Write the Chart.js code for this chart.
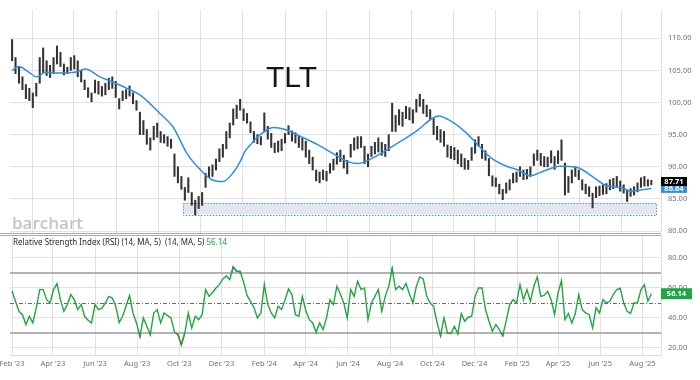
<!DOCTYPE html>
<html>
<head>
<meta charset="utf-8">
<script src="https://cdn.jsdelivr.net/npm/chart.js@4.4.1/dist/chart.umd.min.js"></script>
<style>
  html, body { margin: 0; padding: 0; background: #fff; }
  #wrap { position: relative; width: 700px; height: 380px; overflow: hidden; }
  #price { position: absolute; left: 0; top: 0; }
  #rsi { position: absolute; left: 0; top: 234px; }
</style>
</head>
<body>
<div id="wrap">
  <canvas id="price" width="700" height="240"></canvas>
  <canvas id="rsi" width="700" height="146"></canvas>
</div>
<script>
(function () {
  "use strict";

  // ---- data ----
  const SYMBOL = "TLT";
  const FIRST_DAY = "2023-02-01";   // first sample
  const STEP_DAYS = 5;               // one sample every 5 calendar days

  const priceHigh = [
    109.8, 107.0, 105.5, 104.0, 102.8, 102.2, 101.5, 103.0, 107.0, 108.5,
    106.5, 105.8, 107.0, 108.8, 107.8, 106.0, 105.5, 107.0, 107.3, 106.5,
    105.0, 103.5, 102.3, 101.5, 103.5, 103.3, 102.5, 103.0, 103.8, 104.0,
    103.3, 100.6, 101.8, 102.0, 102.6, 101.5, 100.3, 98.5, 97.2, 95.8,
    94.5, 96.3, 96.8, 95.5, 95.0, 94.7, 94.3, 92.0, 90.0, 88.5,
    86.8, 88.3, 86.0, 84.8, 85.4, 86.0, 89.0, 90.0, 90.3, 91.2,
    92.8, 93.5, 95.5, 96.8, 99.0, 99.6, 100.5, 99.0, 98.3, 97.0,
    95.5, 95.0, 94.7, 98.4, 96.3, 95.2, 93.7, 94.0, 94.3, 95.2,
    96.4, 95.6, 95.3, 94.8, 94.5, 94.0, 92.6, 91.5, 89.5, 89.2,
    89.5, 89.3, 90.5, 91.2, 92.2, 92.6, 91.8, 91.0, 93.5, 94.5,
    94.7, 94.7, 93.2, 92.0, 93.2, 93.8, 94.5, 93.8, 93.5, 95.0,
    99.9, 98.0, 98.9, 98.5, 99.4, 99.2, 98.9, 100.5, 101.3, 100.5,
    99.6, 98.9, 97.5, 96.3, 95.8, 95.5, 93.4, 93.2, 93.0, 92.6,
    92.0, 91.3, 91.0, 93.0, 94.2, 94.7, 93.5, 92.5, 91.3, 88.6,
    88.3, 87.3, 86.5, 87.5, 88.0, 89.0, 89.2, 90.0, 89.5, 89.6,
    90.0, 92.0, 92.6, 92.1, 91.6, 91.5, 92.5, 91.6, 92.5, 94.2,
    90.6, 88.5, 89.5, 90.0, 89.5, 88.0, 87.3, 86.9, 85.9, 86.9,
    87.0, 87.2, 87.4, 88.0, 88.2, 88.5, 87.8, 87.2, 86.4, 86.6,
    86.9, 87.5, 88.3, 88.5, 88.0, 87.9
  ];
  const priceLow = [
    106.5, 104.5, 103.0, 102.0, 100.6, 100.3, 99.2, 101.0, 103.0, 104.6,
    104.2, 103.9, 104.5, 106.0, 105.6, 104.3, 104.5, 105.0, 105.2, 104.0,
    103.2, 102.0, 100.8, 100.1, 101.5, 101.3, 101.0, 101.2, 102.0, 102.2,
    100.8, 99.0, 100.3, 100.6, 101.0, 99.8, 98.8, 95.0, 95.0, 93.5,
    92.6, 94.2, 94.6, 93.8, 93.7, 93.2, 92.9, 88.5, 87.5, 86.5,
    84.8, 86.0, 84.0, 82.5, 83.5, 84.0, 86.8, 88.3, 88.5, 89.5,
    90.8, 91.5, 92.8, 94.5, 96.5, 97.5, 98.8, 97.2, 96.8, 95.3,
    93.8, 93.6, 93.4, 95.5, 94.3, 93.0, 92.2, 92.3, 92.5, 93.7,
    95.0, 94.0, 93.7, 93.0, 92.6, 91.5, 90.5, 89.5, 87.8, 87.5,
    88.0, 87.8, 89.0, 89.5, 90.4, 90.8, 89.8, 88.9, 91.5, 92.6,
    92.8, 93.0, 90.5, 90.0, 91.6, 92.0, 92.3, 91.8, 91.6, 92.5,
    95.5, 95.5, 96.5, 96.3, 97.5, 97.3, 96.8, 98.5, 99.4, 98.3,
    97.8, 97.3, 95.0, 94.2, 93.8, 93.2, 91.5, 91.3, 91.1, 90.5,
    90.0, 89.6, 89.6, 91.0, 92.1, 93.2, 91.3, 91.0, 88.6, 87.0,
    86.9, 85.8, 84.9, 85.9, 86.4, 87.5, 87.6, 88.5, 88.0, 88.1,
    88.5, 90.2, 91.0, 90.2, 90.0, 90.0, 90.6, 89.6, 90.5, 91.0,
    85.6, 86.0, 87.5, 88.5, 88.0, 86.4, 85.8, 85.4, 83.6, 85.2,
    85.5, 85.7, 85.8, 86.4, 86.6, 86.9, 86.2, 85.9, 84.6, 85.4,
    85.6, 86.1, 86.8, 87.0, 87.0, 87.2
  ];

  // moving average (days after FIRST_DAY, value)
  const maDays = [
    0, 10, 22, 36, 48, 69, 91, 106, 127, 146, 166, 185, 214, 233, 253, 272,
    291, 305, 320, 330, 337, 344, 352, 363, 378, 395, 418, 443, 467, 486, 501,
    515, 534, 554, 588, 606, 617, 635, 656, 674, 693, 713, 732, 750, 766, 793,
    818, 841, 861, 880, 896, 909, 925
  ];
  const maValues = [
    105.0, 105.6, 104.9, 104.0, 104.7, 104.6, 104.7, 105.2, 104.0, 103.2, 102.2, 101.2, 98.3, 96.2, 92.1, 89.6,
    87.9, 87.7, 89.1, 90.8, 92.4, 93.3, 94.3, 95.3, 96.1, 95.8, 94.7, 93.4, 91.9, 90.8, 90.5,
    91.0, 92.1, 93.4, 95.8, 97.4, 97.9, 97.1, 95.4, 93.4, 91.4, 90.2, 89.5, 88.6, 89.2, 90.1,
    89.9, 88.4, 87.0, 86.8, 86.2, 86.4, 86.64
  ];

  const rsiValues = [
    58, 51, 44.4, 42.2, 35.6, 41.1, 36.7, 46.7, 58.9, 58.9,
    52.2, 50, 58.9, 62.9, 52.2, 44.4, 48.9, 55.6, 52.2, 45.6,
    48.9, 41.1, 38.5, 36.7, 48.9, 45.6, 46.5, 50, 54.4, 53.3,
    48, 37, 41.1, 48, 54.9, 43.3, 36.7, 27.8, 40, 34.4,
    29, 43.3, 45.6, 36.7, 43.3, 41.5, 40, 30.5, 28.9, 22.2,
    30, 43.3, 33.3, 41.1, 38.9, 42.2, 58.9, 54.4, 57, 60,
    62.2, 66, 68, 65.6, 74, 71.1, 71, 64, 55, 51,
    47, 40, 43.3, 62.2, 48.9, 43.3, 40, 47.8, 45.6, 52.2,
    59.3, 55.6, 42.2, 41.1, 54.4, 45, 39, 36.7, 30.4, 36.7,
    32.2, 40, 52.2, 48.9, 61.1, 56, 50, 40, 58.9, 54.4,
    64.4, 58.9, 60, 38.9, 50, 54.4, 58.9, 44.4, 54.4, 61.1,
    72.7, 58.9, 61.1, 58.9, 63, 56, 50, 61.1, 67.3, 66,
    54.4, 50, 47.8, 36.7, 28.2, 40, 30, 29.6, 34.4, 29.6,
    42.9, 37.8, 40.5, 41.1, 54.4, 60, 60, 45.6, 38, 31.1,
    35.6, 32.2, 28.2, 38, 48.9, 52.2, 50, 62.2, 52.2, 58.9,
    51.1, 61.1, 67.3, 54.4, 55, 57.8, 52.2, 42.2, 56.7, 64.9,
    38.9, 42.9, 36.7, 42.9, 55.6, 45.6, 43.3, 42.2, 33.3, 46.7,
    43.3, 52.2, 50, 51.1, 55.6, 58.9, 59.8, 50, 44.4, 43,
    50, 50, 58.9, 62.2, 51.1, 56.14
  ];

  const lastClose = 87.71;
  const monthTicks = [
    "2023-02-01", "2023-04-01", "2023-06-01", "2023-08-01", "2023-10-01", "2023-12-01",
    "2024-02-01", "2024-04-01", "2024-06-01", "2024-08-01", "2024-10-01", "2024-12-01",
    "2025-02-01", "2025-04-01", "2025-06-01", "2025-08-01"
  ];
  const priceTicks = [80, 85, 90, 95, 100, 105, 110];
  const rsiTicks = [20, 40, 60, 80];
  const rsiUpper = 70, rsiMid = 50, rsiLower = 30;
  const zone = { from: "2023-10-06", to: "2025-08-21", low: 82.6, high: 84.4 };

  // ---- helpers ----
  const DAY_MS = 86400000;
  const t0 = Date.parse(FIRST_DAY);
  const dayOf = (s) => (Date.parse(s) - t0) / DAY_MS;
  const MONTHS = ["Jan", "Feb", "Mar", "Apr", "May", "Jun", "Jul", "Aug", "Sep", "Oct", "Nov", "Dec"];
  const tickDays = monthTicks.map(dayOf);
  const tickLabels = monthTicks.map((s) => MONTHS[+s.slice(5, 7) - 1] + " '" + s.slice(2, 4));
  const X_MIN = -3, X_MAX = 939;

  const COLORS = {
    bar: "#333333",
    ma: "#2f8fe6",
    grid: "#e2e2e2",
    axisText: "#6f6f6f",
    rsi: "#22a53f",
    rsiHigh: "#1530e6",
    rsiLow: "#e5202a",
    band: "#9a9a9a",
    badgeGreen: "#1fa546",
  };
  const FONT = '"Noto Sans", "DejaVu Sans", sans-serif';
  Chart.defaults.font.family = FONT;

  function sharedX(borderColor) {
    return {
      type: "linear",
      min: X_MIN,
      max: X_MAX,
      offset: false,
      afterBuildTicks: (s) => { s.ticks = tickDays.map((v) => ({ value: v })); },
      afterFit: (s) => { s.height = 0; },
      ticks: { display: false },
      grid: { color: COLORS.grid, lineWidth: 1, drawTicks: false },
      border: { display: true, color: borderColor, width: 1 },
    };
  }

  function rightY(min, max, ticks) {
    return {
      position: "right",
      min: min,
      max: max,
      afterBuildTicks: (s) => { s.ticks = ticks.map((v) => ({ value: v })); },
      afterFit: (s) => { s.width = 39; s.paddingTop = 0; s.paddingBottom = 0; },
      grid: { color: COLORS.grid, lineWidth: 1, drawTicks: false },
      border: { display: true, color: "#e0e0e0" },
      ticks: {
        padding: 7,
        color: COLORS.axisText,
        font: { size: 7.5 },
        callback: (v) => Number(v).toFixed(2),
      },
    };
  }

  function badge(ctx, left, cy, w, h, bg, text) {
    ctx.fillStyle = bg;
    ctx.fillRect(left, cy - h / 2, w, h);
    ctx.fillStyle = "#ffffff";
    ctx.font = "bold 7.5px " + FONT;
    ctx.textAlign = "center";
    ctx.textBaseline = "middle";
    ctx.fillText(text, left + w / 2, cy + 0.5);
  }

  // ---- price panel ----
  const priceDecor = {
    id: "priceDecor",
    beforeDatasetsDraw(chart) {
      const { ctx, scales: { x, y } } = chart;
      ctx.save();
      ctx.font = '600 17px "Open Sans", sans-serif';
      ctx.fillStyle = "#c4c4c4";
      ctx.textBaseline = "alphabetic";
      ctx.fillText("barchart", 12, 229);

      ctx.font = '30px "Liberation Sans", Arial, sans-serif';
      ctx.fillStyle = "#141414";
      ctx.fillText(SYMBOL, 266, 87);

      const x0 = x.getPixelForValue(dayOf(zone.from));
      const x1 = x.getPixelForValue(dayOf(zone.to));
      const y0 = y.getPixelForValue(zone.high);
      const y1 = y.getPixelForValue(zone.low);
      ctx.fillStyle = "#e3e7ec";
      ctx.fillRect(x0, y0, x1 - x0, y1 - y0);
      ctx.setLineDash([1.5, 1.5]);
      ctx.strokeStyle = "#4e9ae4";
      ctx.lineWidth = 1;
      ctx.strokeRect(Math.round(x0) + 0.5, Math.round(y0) + 0.5, Math.round(x1 - x0), Math.round(y1 - y0));
      ctx.restore();
    },
    afterDraw(chart) {
      const { ctx, chartArea: a, scales: { y } } = chart;
      ctx.save();
      ctx.strokeStyle = "#ababab";
      ctx.lineWidth = 1;
      ctx.beginPath();
      ctx.moveTo(0, a.bottom + 0.5);
      ctx.lineTo(a.right, a.bottom + 0.5);
      ctx.stroke();
      const lastMa = maValues[maValues.length - 1];
      badge(ctx, a.right, y.getPixelForValue(lastMa), 26, 9, COLORS.ma, lastMa.toFixed(2));
      badge(ctx, a.right, y.getPixelForValue(lastClose), 26, 9, "#000000", lastClose.toFixed(2));
      ctx.restore();
    },
  };

  new Chart(document.getElementById("price"), {
    data: {
      datasets: [
        {
          type: "bar",
          data: priceHigh.map((h, i) => ({ x: i * STEP_DAYS, y: [priceLow[i], h] })),
          backgroundColor: COLORS.bar,
          barThickness: 1.4,
          grouped: false,
          order: 2,
        },
        {
          type: "line",
          data: maDays.map((d, i) => ({ x: d, y: maValues[i] })),
          borderColor: COLORS.ma,
          borderWidth: 1.5,
          pointRadius: 0,
          cubicInterpolationMode: "monotone",
          order: 1,
        },
      ],
    },
    options: {
      responsive: false,
      animation: false,
      events: [],
      layout: { padding: { left: 10, top: 10, right: 0, bottom: 7 } },
      plugins: { legend: { display: false }, tooltip: { enabled: false } },
      scales: {
        x: sharedX("#ababab"),
        y: rightY(79.7, 114.4, priceTicks),
      },
    },
    plugins: [priceDecor],
  });

  // ---- RSI panel ----
  const rsiClip = {
    id: "rsiClip",
    beforeDatasetDraw(chart, args) {
      const band = chart.data.datasets[args.index].band;
      if (!band) return;
      const { ctx, chartArea: a, scales: { y } } = chart;
      ctx.save();
      ctx.beginPath();
      if (band === "high") {
        const yy = y.getPixelForValue(rsiUpper);
        ctx.rect(a.left, a.top, a.width, yy - a.top);
      } else {
        const yy = y.getPixelForValue(rsiLower);
        ctx.rect(a.left, yy, a.width, a.bottom - yy);
      }
      ctx.clip();
    },
    afterDatasetDraw(chart, args) {
      if (chart.data.datasets[args.index].band) chart.ctx.restore();
    },
  };

  const rsiDecor = {
    id: "rsiDecor",
    beforeDatasetsDraw(chart) {
      const { ctx, chartArea: a, scales: { y } } = chart;
      ctx.save();
      ctx.strokeStyle = COLORS.band;
      ctx.lineWidth = 1.5;
      [rsiUpper, rsiLower].forEach((v) => {
        const yy = y.getPixelForValue(v);
        ctx.beginPath();
        ctx.moveTo(a.left, yy);
        ctx.lineTo(a.right, yy);
        ctx.stroke();
      });
      const ym = Math.round(y.getPixelForValue(rsiMid)) + 0.5;
      ctx.strokeStyle = "#6a6a6a";
      ctx.lineWidth = 1;
      ctx.setLineDash([4, 2, 1, 2]);
      ctx.beginPath();
      ctx.moveTo(a.left, ym);
      ctx.lineTo(a.right, ym);
      ctx.stroke();
      ctx.restore();
    },
    afterDraw(chart) {
      const { ctx, chartArea: a, scales: { x, y } } = chart;
      ctx.save();
      // panel top border
      ctx.strokeStyle = "#ababab";
      ctx.lineWidth = 1;
      ctx.beginPath();
      ctx.moveTo(0, a.top + 0.5);
      ctx.lineTo(a.right, a.top + 0.5);
      ctx.stroke();

      // date labels
      ctx.font = "7.5px " + FONT;
      ctx.fillStyle = COLORS.axisText;
      ctx.textAlign = "center";
      ctx.textBaseline = "middle";
      tickDays.forEach((d, i) => {
        ctx.fillText(tickLabels[i], x.getPixelForValue(d), a.bottom + 9);
      });

      // study title
      const last = rsiValues[rsiValues.length - 1];
      const title = "Relative Strength Index (RSI) (14, MA, 5)  (14, MA, 5) ";
      ctx.font = "8px " + FONT;
      ctx.textAlign = "left";
      ctx.fillStyle = "#2a2a2a";
      ctx.fillText(title, 13, a.top + 7.5);
      const w = ctx.measureText(title).width;
      ctx.fillStyle = COLORS.rsi;
      ctx.fillText(last.toFixed(2), 13 + w, a.top + 7.5);

      badge(ctx, a.right, y.getPixelForValue(last), 31, 11, COLORS.badgeGreen, last.toFixed(2));
      ctx.restore();
    },
  };

  const rsiPoints = rsiValues.map((v, i) => ({ x: i * STEP_DAYS, y: v }));
  function rsiLine(color, band) {
    return {
      type: "line",
      data: rsiPoints,
      borderColor: color,
      borderWidth: 1.4,
      pointRadius: 0,
      tension: 0,
      band: band,
    };
  }

  new Chart(document.getElementById("rsi"), {
    data: {
      datasets: [
        rsiLine(COLORS.rsi, null),
        rsiLine(COLORS.rsiHigh, "high"),
        rsiLine(COLORS.rsiLow, "low"),
      ],
    },
    options: {
      responsive: false,
      animation: false,
      events: [],
      layout: { padding: { left: 10, top: 1, right: 0, bottom: 25 } },
      plugins: { legend: { display: false }, tooltip: { enabled: false } },
      scales: {
        x: sharedX("#dcdcdc"),
        y: rightY(15.3, 95.3, rsiTicks),
      },
    },
    plugins: [rsiClip, rsiDecor],
  });
})();
</script>
</body>
</html>
